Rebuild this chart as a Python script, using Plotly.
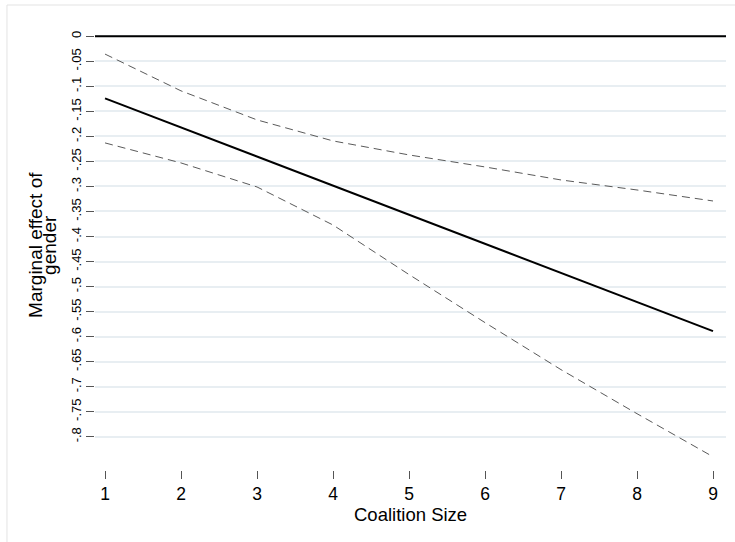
import plotly.graph_objects as go

# Data
coalition_size = [1, 2, 3, 4, 5, 6, 7, 8, 9]
marginal_effect = [-0.124, -0.182, -0.240, -0.298, -0.356, -0.414, -0.472, -0.530, -0.589]
upper_ci = [-0.0355, -0.109, -0.167, -0.209, -0.237, -0.261, -0.287, -0.307, -0.329]
lower_ci = [-0.213, -0.253, -0.301, -0.377, -0.476, -0.572, -0.666, -0.754, -0.840]

y_tick_vals = [0, -0.05, -0.1, -0.15, -0.2, -0.25, -0.3, -0.35, -0.4, -0.45,
               -0.5, -0.55, -0.6, -0.65, -0.7, -0.75, -0.8]
y_tick_text = ["0", "-.05", "-.1", "-.15", "-.2", "-.25", "-.3", "-.35", "-.4", "-.45",
               "-.5", "-.55", "-.6", "-.65", "-.7", "-.75", "-.8"]
x_tick_vals = [1, 2, 3, 4, 5, 6, 7, 8, 9]

FONT = "Liberation Sans, Arial, sans-serif"

fig = go.Figure()
fig.add_trace(go.Scatter(x=coalition_size, y=upper_ci, mode="lines",
                         line=dict(color="#5a5a5a", width=1, dash="8px,5px"),
                         showlegend=False, hoverinfo="skip"))
fig.add_trace(go.Scatter(x=coalition_size, y=lower_ci, mode="lines",
                         line=dict(color="#5a5a5a", width=1, dash="8px,5px"),
                         showlegend=False, hoverinfo="skip"))
fig.add_trace(go.Scatter(x=coalition_size, y=marginal_effect, mode="lines",
                         line=dict(color="black", width=2),
                         showlegend=False))

# reference line at zero
fig.add_shape(type="line", xref="paper", yref="y", x0=0, x1=1, y0=0, y1=0,
              line=dict(color="black", width=2), layer="above")

# outer light frame (left and top)
fig.add_shape(type="line", xref="paper", yref="paper", x0=-0.1395, x1=-0.1395,
              y0=-0.2, y1=1.0473, line=dict(color="#e3e3e3", width=1))
fig.add_shape(type="line", xref="paper", yref="paper", x0=-0.1395, x1=1.1,
              y0=1.0473, y1=1.0473, line=dict(color="#e3e3e3", width=1))

fig.add_annotation(text="Marginal effect of", textangle=-90, xref="paper", yref="paper",
                   x=0, y=0.507, xanchor="center", yanchor="middle", xshift=-59,
                   showarrow=False, font=dict(family=FONT, size=19, color="black"))
fig.add_annotation(text="gender", textangle=-90, xref="paper", yref="paper",
                   x=0, y=0.507, xanchor="center", yanchor="middle", xshift=-45,
                   showarrow=False, font=dict(family=FONT, size=19, color="black"))
fig.add_annotation(text="Coalition Size", xref="paper", yref="paper",
                   x=0.5, y=0, xanchor="center", yanchor="middle", yshift=-44,
                   showarrow=False, font=dict(family=FONT, size=18.5, color="black"))

fig.update_layout(
    width=735, height=542,
    margin=dict(l=95, r=9, t=26, b=72),
    paper_bgcolor="white", plot_bgcolor="white",
    font=dict(family=FONT, color="black"),
    showlegend=False,
    xaxis=dict(range=[0.868, 9.171], tickvals=x_tick_vals, ticks="outside", ticklen=8,
               tickcolor="#555555", tickwidth=1, showgrid=False, zeroline=False,
               showline=False, tickfont=dict(size=17.5, family=FONT, color="black")),
    yaxis=dict(range=[-0.8665, 0.0206], tickvals=y_tick_vals, ticktext=y_tick_text,
               ticks="outside", ticklen=8, tickcolor="#555555", tickwidth=1,
               showgrid=True, gridcolor="#e8eef2", gridwidth=1.5, zeroline=False,
               showline=False, tickangle=-90,
               tickfont=dict(size=13, family=FONT, color="black")),
)

fig.write_html("out.html")
